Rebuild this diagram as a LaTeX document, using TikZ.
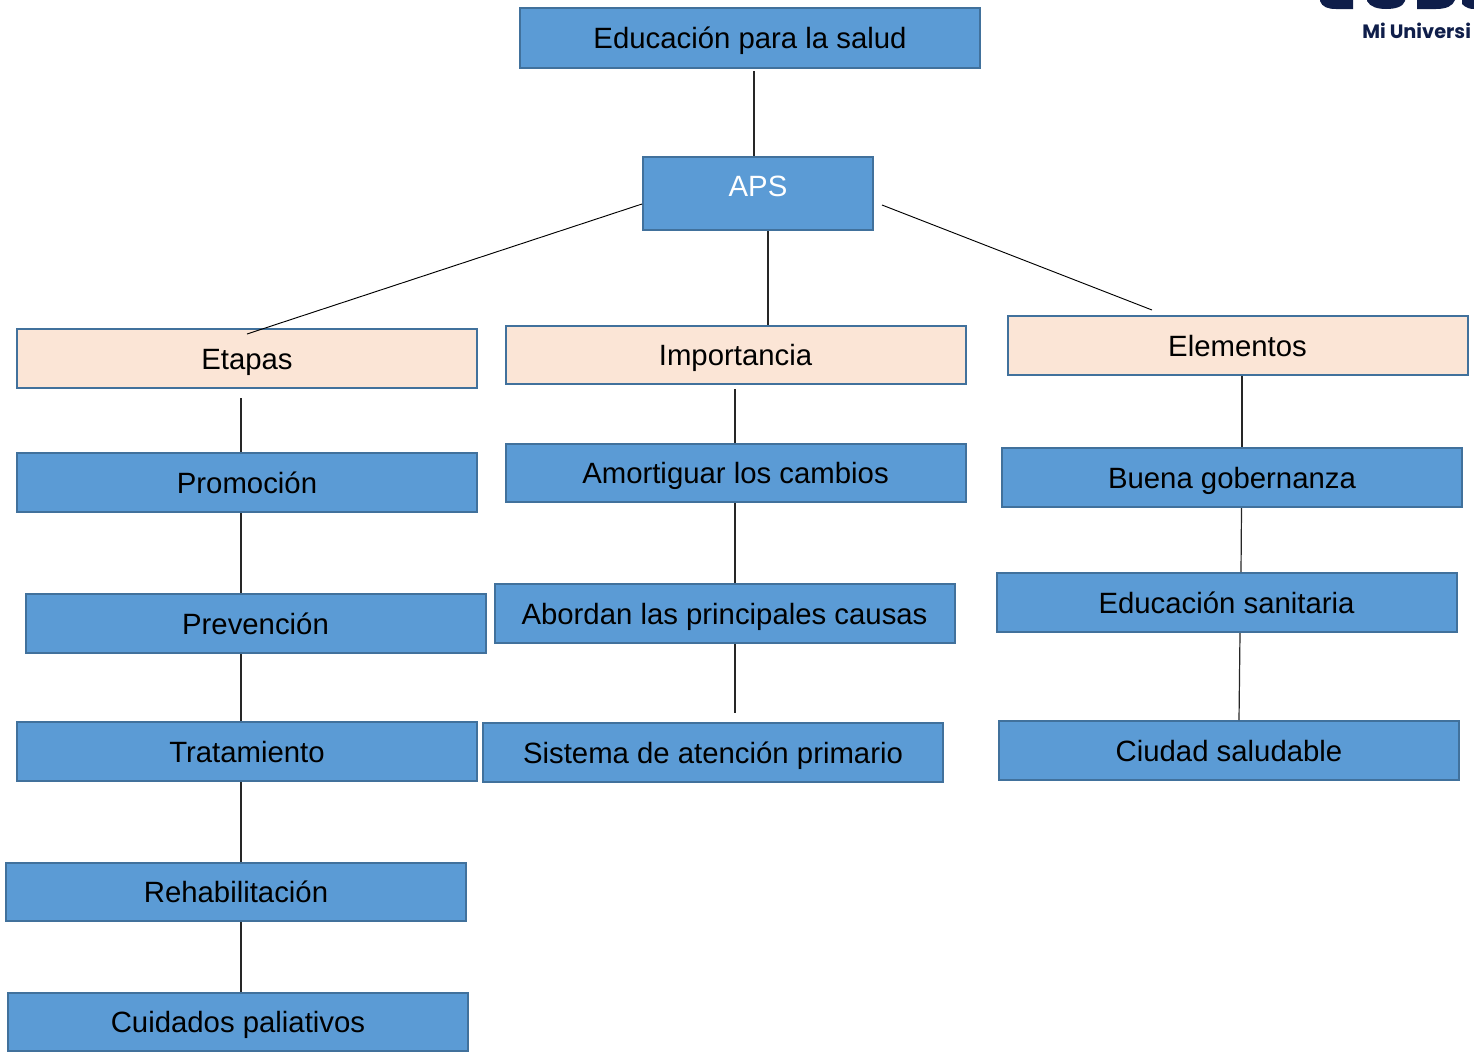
\documentclass[tikz,border=0pt]{standalone}
\usepackage{fontspec}
\setmainfont{Liberation Sans}
\newfontfamily\logofont{Poppins}
\usetikzlibrary{calc}
\definecolor{boxblue}{HTML}{5B9BD5}
\definecolor{boxline}{HTML}{41719C}
\definecolor{boxpeach}{HTML}{FBE5D6}
\definecolor{navy}{HTML}{0F1E4A}
\definecolor{conn}{HTML}{262626}
\begin{document}
\begin{tikzpicture}[x=0.75pt,y=-0.75pt,
  basebox/.style={rectangle, draw=boxline, line width=1.5pt, inner sep=0pt,
    font=\fontsize{22}{25}\selectfont, text height=15.75pt, text depth=0pt,
    minimum width=345pt, minimum height=44.25pt},
  bluebox/.style={basebox, fill=boxblue},
  peachbox/.style={basebox, fill=boxpeach},
  link/.style={draw=conn, line width=0.9pt},
  diag/.style={draw=black, line width=0.7pt}]
\useasboundingbox (0,0) rectangle (1474,1051);
\begin{scope}
\clip (0,0) rectangle (1474,1051);
% logo fragment
\fill[navy] (1320,0) -- (1320,1) .. controls (1322,7) and (1328,9) .. (1336,9) -- (1353,9) -- (1353,0) -- cycle;
\fill[navy] (1367,0) -- (1367,1) .. controls (1370,7) and (1378,9) .. (1386,9) .. controls (1395,9) and (1403,7) .. (1405,1) -- (1405,0) -- cycle;
\fill[navy] (1417,0) -- (1417,9) -- (1436,9) .. controls (1446,9) and (1453,6) .. (1455,0) -- cycle;
\fill[navy] (1462,0) -- (1462,4) .. controls (1466,8) and (1470,9) .. (1474,9) -- (1474,0) -- cycle;
\end{scope}
\node[anchor=base west, inner sep=0pt, text=navy, font=\logofont\bfseries\fontsize{14.5}{17}\selectfont] (logo) at (1362,38) {Mi Universi};

% nodes
\node[bluebox, minimum width=345pt, minimum height=45pt] (edu) at (750,38) {Educación para la salud};
\node[bluebox, minimum width=172.5pt, minimum height=54.75pt, text=white, text depth=12pt] (aps) at (758,193.5) {APS};

\node[peachbox] (etapas) at (247,358.5) {Etapas};
\node[peachbox, minimum height=43.5pt] (imp) at (735.5,355) {Importancia};
\node[peachbox] (elem) at (1237.5,345.5) {Elementos};

\node[bluebox] (promo) at (247,482.5) {Promoción};
\node[bluebox] (prev) at (255.5,623.5) {Prevención};
\node[bluebox] (trat) at (247,751.5) {Tratamiento};
\node[bluebox, minimum height=43.5pt] (rehab) at (236,892) {Rehabilitación};
\node[bluebox, minimum height=43.5pt] (cuid) at (238,1022) {Cuidados paliativos};

\node[bluebox, minimum height=43.5pt] (amort) at (735.5,473) {Amortiguar los cambios};
\node[bluebox] (abord) at (724.5,613.5) {Abordan las principales causas};
\node[bluebox] (sist) at (713,752.5) {Sistema de atención primario};

\node[bluebox] (buena) at (1232,477.5) {Buena gobernanza};
\node[bluebox] (edusan) at (1226.5,602.5) {Educación sanitaria};
\node[bluebox] (ciudad) at (1229,750.5) {Ciudad saludable};

% connectors
\draw[link] ($(edu.south)+(4,2)$) -- ($(aps.north)+(-4,0)$);
\draw[diag] ($(aps.west)+(0,10.5)$) -- ($(etapas.north)+(0,6)$);
\draw[link] ($(aps.south)+(10,0)$) -- ($(imp.north)+(32.5,0)$);
\draw[diag] ($(aps.east)+(8,11.5)$) -- ($(elem.north)+(-85.5,-5)$);

\draw[link] ($(etapas.south)+(-6,9)$) -- ($(promo.north)+(-6,0)$);
\draw[link] ($(promo.south)+(-6,0)$) -- ($(prev.north)+(-14.5,0)$);
\draw[link] ($(prev.south)+(-14.5,0)$) -- ($(trat.north)+(-6,0)$);
\draw[link] ($(trat.south)+(-6,0)$) -- ($(rehab.north)+(5,0)$);
\draw[link] ($(rehab.south)+(5,0)$) -- ($(cuid.north)+(3,0)$);

\draw[link] ($(imp.south)+(-0.5,4)$) -- ($(amort.north)+(-0.5,0)$);
\draw[link] ($(amort.south)+(-0.5,0)$) -- ($(abord.north)+(10.5,0)$);
\draw[link] ($(abord.south)+(10.5,0)$) -- ($(sist.north)+(22,-9)$);

\draw[link] ($(elem.south)+(4.5,0)$) -- ($(buena.north)+(10,0)$);
\draw[link] ($(buena.south)+(9.5,0)$) -- ($(edusan.north)+(14.5,0)$);
\draw[link] ($(edusan.south)+(13.5,0)$) -- ($(ciudad.north)+(10,0)$);
\end{tikzpicture}
\end{document}
